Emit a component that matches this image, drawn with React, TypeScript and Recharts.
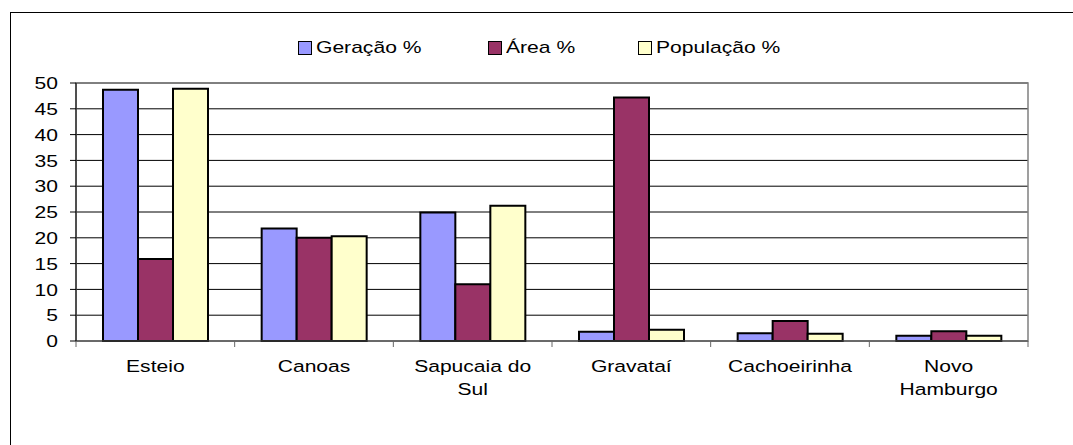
import React from 'react';
import {
  BarChart,
  Bar,
  XAxis,
  YAxis,
  CartesianGrid,
  ReferenceArea,
} from 'recharts';

// Categories (municipalities), line breaks as in the original axis labels
const cities = ['Esteio', 'Canoas', 'Sapucaia do\nSul', 'Gravataí', 'Cachoeirinha', 'Novo\nHamburgo'];

// Series values (%)
const geracao = [48.7, 21.8, 24.9, 1.8, 1.5, 1.0];
const area = [15.9, 20.0, 11.0, 47.2, 3.9, 1.9];
const populacao = [48.9, 20.3, 26.2, 2.2, 1.4, 1.0];

const yTicks = [0, 5, 10, 15, 20, 25, 30, 35, 40, 45, 50];

const series = [
  { key: 'geracao', name: 'Geração %', color: '#9999FF' },
  { key: 'area', name: 'Área %', color: '#993366' },
  { key: 'populacao', name: 'População %', color: '#FFFFCC' },
];

// legend item left edges (the original chart is stretched horizontally)
const legendLeft = [298, 488, 638];

const data = cities.map((city, i) => ({
  city,
  geracao: geracao[i],
  area: area[i],
  populacao: populacao[i],
}));

const FONT = '"Liberation Sans", Arial, sans-serif';
const FS = 17;
const STRETCH = 1.24;

// x tick: multi-line label + tick marks on the category boundaries
const CityTick = (props: any) => {
  const { x, y, payload, index, width } = props;
  const band = width / cities.length;
  const lines = String(payload.value).split('\n');
  return (
    <g>
      <line x1={x - band / 2} y1={y} x2={x - band / 2} y2={y + 6} stroke="#666" />
      {index === cities.length - 1 && (
        <line x1={x + band / 2} y1={y} x2={x + band / 2} y2={y + 6} stroke="#666" />
      )}
      <g transform={`translate(${x},${y + 31}) scale(${STRETCH},1)`}>
        <text x={0} y={0} textAnchor="middle" fill="#000" fontSize={FS} fontFamily={FONT}>
          {lines.map((line, i) => (
            <tspan key={i} x={0} dy={i === 0 ? 0 : 23}>
              {line}
            </tspan>
          ))}
        </text>
      </g>
    </g>
  );
};

const ValueTick = (props: any) => {
  const { x, y, payload } = props;
  return (
    <g transform={`translate(${x},${y}) scale(${STRETCH},1)`}>
      <text x={0} y={0} dy="0.36em" textAnchor="end" fill="#000" fontSize={FS} fontFamily={FONT}>
        {payload.value}
      </text>
    </g>
  );
};

const App = () => {
  return (
    <div
      style={{
        position: 'fixed',
        left: 0,
        top: 0,
        width: 1073,
        height: 445,
        overflow: 'hidden',
        background: '#fff',
        fontFamily: FONT,
      }}
    >
      {/* outer chart frame (only left/top edges are visible) */}
      <div
        style={{
          position: 'absolute',
          left: 10,
          top: 12,
          width: 1200,
          height: 600,
          borderLeft: '1px solid #000',
          borderTop: '1px solid #000',
        }}
      />

      {/* Legend */}
      {series.map((s, i) => (
        <div
          key={s.key}
          style={{
            position: 'absolute',
            left: legendLeft[i],
            top: 38,
            display: 'flex',
            alignItems: 'center',
            fontSize: FS,
            lineHeight: '20px',
            color: '#000',
            whiteSpace: 'nowrap',
          }}
        >
          <span
            style={{
              display: 'inline-block',
              width: 12,
              height: 12,
              background: s.color,
              border: '1px solid #000',
              marginRight: 4,
            }}
          />
          <span style={{ display: 'inline-block', transform: `scaleX(${STRETCH})`, transformOrigin: 'left center' }}>
            {s.name}
          </span>
        </div>
      ))}

      <div style={{ position: 'absolute', left: 0, top: 0 }}>
        <BarChart
          width={1073}
          height={445}
          data={data}
          margin={{ top: 83, right: 45, bottom: 44, left: 0 }}
          barCategoryGap={27}
          barGap={0}
        >
          <CartesianGrid vertical={false} stroke="#000" strokeDasharray="" />
          <ReferenceArea y1={0} y2={50} fill="none" stroke="#808080" strokeWidth={1.5} />
          <XAxis
            dataKey="city"
            height={60}
            interval={0}
            tickLine={false}
            tickSize={0}
            tickMargin={0}
            axisLine={{ stroke: '#555' }}
            tick={<CityTick />}
          />
          <YAxis
            width={76}
            domain={[0, 50]}
            ticks={yTicks}
            interval={0}
            tickSize={6}
            tickMargin={12}
            axisLine={{ stroke: '#000' }}
            tickLine={{ stroke: '#000' }}
            tick={<ValueTick />}
          />
          {series.map((s) => (
            <Bar
              key={s.key}
              dataKey={s.key}
              name={s.name}
              fill={s.color}
              stroke="#000"
              strokeWidth={2}
              isAnimationActive={false}
            />
          ))}
        </BarChart>
      </div>
    </div>
  );
};

export default App;
